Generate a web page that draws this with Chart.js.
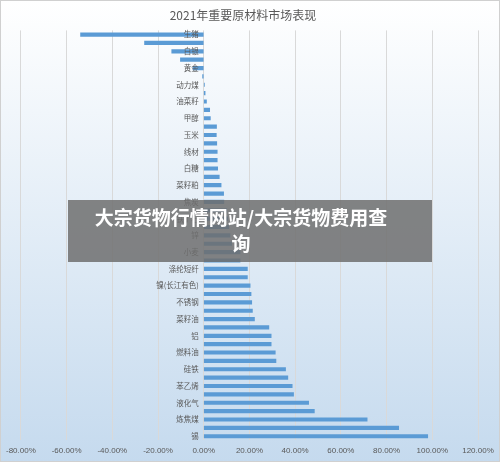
<!DOCTYPE html>
<html><head><meta charset="utf-8">
<script src="https://cdn.jsdelivr.net/npm/chart.js@4/dist/chart.umd.min.js"></script>
<style>
html,body{margin:0;padding:0;background:#fff;}
#wrap{position:relative;width:500px;height:462px;}
#banner{position:absolute;left:68px;top:200px;width:364px;height:62px;background:rgba(110,110,110,0.85);color:#fff;font:bold 19px "Noto Sans CJK SC";text-align:center;line-height:26px;padding-top:4px;padding-right:18px;box-sizing:border-box;}
</style></head><body>
<div id="wrap"><canvas id="c" width="500" height="462"></canvas>
<div id="banner">大宗货物行情网站/大宗货物费用查<br>询</div></div>
<script>
const categories=["生猪","鸡蛋","白银","PVC","黄金","豆一","动力煤","棉花","油菜籽","豆粕","甲醇","橡胶","玉米","螺纹钢","线材","沥青","白糖","玻璃","菜籽粕","纯碱","焦炭","热卷","铁矿石","铅","锌","PTA","小麦","乙二醇","涤纶短纤","聚丙烯","镍(长江有色)","铜","不锈钢","塑料","菜籽油","棕榈油","铝","豆油","燃料油","甲苯","硅铁","锰硅","苯乙烯","短纤","液化气","尿素","炼焦煤","动力煤(港口)","锡"];
const values=[-53.9,-25.9,-14,-10.2,-4.7,-0.5,0.3,0.6,1.2,2.6,2.9,5.6,5.5,5.7,5.9,5.9,6.1,6.8,7.6,8.7,8.8,10,10.5,11,11.5,12.2,15.9,15.9,19.1,19.1,20.3,20.7,21,21.3,22.2,28.5,29.5,29.5,31.3,31.6,35.8,36.8,38.7,39.3,45.9,48.4,71.5,85.3,98];
const xTicks=[-80,-60,-40,-20,0,20,40,60,80,100,120];
const bg={id:'bg',beforeDraw(c){const g=c.ctx;const gr=g.createLinearGradient(0,0,0,462);gr.addColorStop(0,'#ffffff');gr.addColorStop(1,'#c5daee');g.save();g.fillStyle=gr;g.fillRect(0,0,500,462);g.strokeStyle='#d0d0d0';g.strokeRect(0.5,0.5,499,461);g.restore();}};
const ylab={id:'ylab',afterDatasetsDraw(c){const g=c.ctx,y=c.scales.y,x=c.scales.x;const x0=x.getPixelForValue(0);g.save();g.font='7.5px "Noto Sans CJK SC"';g.fillStyle='#595959';g.textAlign='right';g.textBaseline='middle';categories.forEach((n,i)=>{if(i%2===0)g.fillText(n,x0-5,y.getPixelForTick(i));});g.restore();}};
new Chart(document.getElementById('c'),{type:'bar',data:{labels:categories,datasets:[{data:values,backgroundColor:'#5b9bd5',barThickness:3.5}]},
options:{indexAxis:'y',responsive:false,animation:false,layout:{padding:{left:8,right:22,top:2,bottom:0}},
plugins:{legend:{display:false},tooltip:{enabled:false},title:{display:true,text:'2021年重要原材料市场表现',color:'#595959',font:{family:'Noto Sans CJK SC',size:12,weight:'normal'},padding:{top:6,bottom:8}}},
scales:{x:{min:-80,max:120,afterBuildTicks(s){s.ticks=xTicks.map(v=>({value:v}));},grid:{color:'#d9d9d9',drawTicks:false},border:{display:false},ticks:{color:'#595959',font:{family:'Liberation Sans',size:8},padding:6,callback:v=>v.toFixed(2)+'%'}},
y:{grid:{display:false},border:{display:false},ticks:{display:false}}}},plugins:[bg,ylab]});
</script></body></html>
